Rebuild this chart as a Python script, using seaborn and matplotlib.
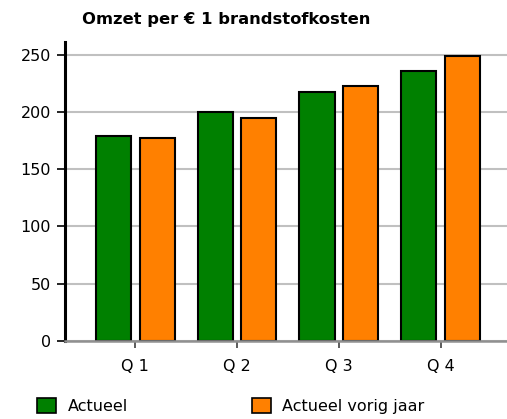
import pandas as pd
import matplotlib.pyplot as plt
import seaborn as sns
from matplotlib.patches import Patch

# Chart data
quarters = ['Q 1', 'Q 2', 'Q 3', 'Q 4']
actueel = [178.5, 199.5, 217, 236]
vorig_jaar = [177, 194.5, 222.5, 248.5]
series_names = ['Actueel', 'Actueel vorig jaar']
colors = ['#008000', '#ff8000']

df = pd.DataFrame({
    'Kwartaal': quarters * 2,
    'Omzet': actueel + vorig_jaar,
    'Serie': [series_names[0]] * 4 + [series_names[1]] * 4,
})

sns.set_style('white')
plt.rcParams['font.family'] = ['DejaVu Sans']
plt.rcParams['text.color'] = 'black'
plt.rcParams['xtick.labelcolor'] = 'black'
plt.rcParams['ytick.labelcolor'] = 'black'

fig = plt.figure(figsize=(5.07, 4.19), dpi=100)
ax = fig.add_axes([0.128, 0.186, 0.872, 0.714])

sns.barplot(data=df, x='Kwartaal', y='Omzet', hue='Serie', palette=colors,
            saturation=1, width=0.86, gap=0.2, edgecolor='black', linewidth=1.5,
            legend=False, ax=ax)

ax.set_ylim(0, 261)
ax.set_xlim(-0.69, 3.65)
ax.set_yticks([0, 50, 100, 150, 200, 250])
ax.yaxis.grid(True, color='#c0c0c0', linewidth=1.5)
ax.set_axisbelow(True)

for side in ['top', 'right']:
    ax.spines[side].set_visible(False)
ax.spines['left'].set_color('black')
ax.spines['left'].set_linewidth(2.2)
ax.spines['bottom'].set_color('#909090')
ax.spines['bottom'].set_linewidth(1.8)

ax.tick_params(axis='y', length=6, width=1.2, color='black', labelsize=11.5, pad=4, left=True)
ax.tick_params(axis='x', length=5, width=1.2, color='#404040', labelsize=11.5, pad=8, bottom=True)
ax.set_xlabel('')
ax.set_ylabel('')

fig.text(0.162, 0.953, 'Omzet per € 1 brandstofkosten', fontsize=11.8,
         fontweight='bold', ha='left', va='center', color='black')

handles = [Patch(facecolor=c, edgecolor='black', linewidth=1.2) for c in colors]
fig.legend(handles, series_names, loc='center left', bbox_to_anchor=(0.045, 0.032),
           ncol=2, frameon=False, fontsize=11.5, handlelength=1.2, handleheight=1.1,
           handletextpad=0.7, columnspacing=7.75)

fig.savefig('out.png', dpi=100)
